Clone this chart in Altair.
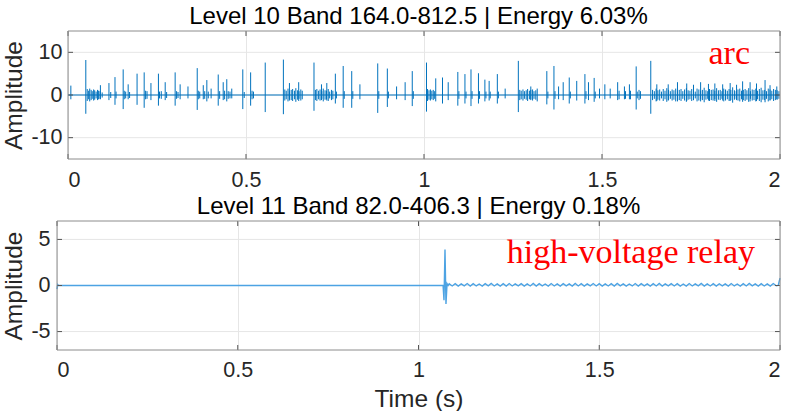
import altair as alt
import pandas as pd

FONT = "Liberation Sans"
SERIF = "Liberation Serif"
BLUE = "#0072BD"
TXT = "#262626"
FRAME = "#8c8c8c"
GRID = "#e6e6e6"

top_title = "Level 10 Band 164.0-812.5 | Energy 6.03%"
bot_title = "Level 11 Band 82.0-406.3 | Energy 0.18%"
top_note = "arc"
bot_note = "high-voltage relay"
y_label = "Amplitude"
x_label = "Time (s)"

x_ticks = [0, 0.5, 1, 1.5, 2]
top_y_ticks = [-10, 0, 10]
bot_y_ticks = [-5, 0, 5]

# --- top panel: main spikes (time, positive peak, negative peak)
spike_t = [0.008, 0.050, 0.091, 0.115, 0.132, 0.155, 0.169, 0.194, 0.214, 0.233,
           0.254, 0.273, 0.301, 0.315, 0.337, 0.363, 0.380, 0.390, 0.402, 0.422,
           0.436, 0.446, 0.460, 0.491, 0.513, 0.554, 0.605, 0.622, 0.648, 0.691,
           0.712, 0.727, 0.751, 0.773, 0.797, 0.820, 0.870, 0.897, 0.923, 0.947,
           0.967, 1.007, 1.033, 1.052, 1.068, 1.095, 1.115, 1.132, 1.153, 1.171,
           1.183, 1.206, 1.228, 1.265, 1.300, 1.345, 1.365, 1.378, 1.391, 1.408,
           1.429, 1.452, 1.462, 1.478, 1.493, 1.508, 1.523, 1.544, 1.563, 1.577,
           1.596, 1.637, 1.654, 1.686, 1.712, 1.738, 1.757, 1.777, 1.799, 1.817,
           1.839, 1.860, 1.878, 1.895, 1.916, 1.934, 1.958, 1.972, 1.991]
spike_up = [2.2, 8.2, 2.3, 2.8, 4.2, 6.0, 2.5, 5.0, 5.3, 2.8,
            5.0, 3.0, 5.3, 2.5, 2.0, 6.3, 2.3, 3.5, 1.5, 4.8,
            3.0, 3.7, 1.5, 6.0, 5.3, 7.6, 8.3, 2.8, 3.0, 7.6,
            2.5, 2.8, 5.0, 6.8, 5.6, 2.5, 7.4, 6.2, 2.0, 3.0,
            5.6, 7.6, 3.9, 4.1, 3.0, 5.4, 4.9, 6.0, 5.1, 3.6,
            3.3, 4.9, 1.5, 8.0, 2.0, 5.6, 6.8, 2.0, 3.0, 4.1,
            3.3, 4.9, 3.0, 4.0, 1.5, 2.5, 1.5, 3.0, 2.0, 2.5,
            6.7, 8.0, 2.5, 2.5, 3.0, 2.7, 2.4, 3.0, 2.6, 2.7,
            2.5, 2.8, 2.4, 3.2, 3.0, 2.7, 3.5, 2.3, 2.0]
spike_dn = [-1.0, -4.4, -1.0, -1.2, -2.3, -3.3, -1.0, -2.3, -3.0, -1.2,
            -2.5, -1.2, -2.5, -1.0, -0.8, -3.5, -1.0, -1.5, -0.8, -2.5,
            -1.2, -1.5, -0.8, -3.3, -2.5, -4.0, -4.5, -1.3, -1.4, -3.7,
            -1.2, -1.3, -2.0, -3.0, -3.0, -1.0, -4.2, -2.8, -1.0, -1.2,
            -2.6, -3.9, -1.5, -2.0, -1.2, -2.5, -2.0, -2.6, -2.0, -1.5,
            -1.3, -2.0, -0.8, -4.0, -1.0, -2.2, -3.4, -1.0, -1.2, -2.0,
            -1.3, -2.0, -1.2, -1.6, -0.8, -1.0, -0.8, -1.2, -1.0, -1.0,
            -3.4, -4.4, -1.4, -1.3, -1.5, -1.4, -1.2, -1.5, -1.3, -1.4,
            -1.3, -1.4, -1.2, -1.6, -1.5, -1.4, -1.7, -1.2, -1.0]

# --- top panel: small oscillation bursts (time, half-height)
fuzz_t = [0.054, 0.058, 0.061, 0.065, 0.068, 0.072, 0.075, 0.079, 0.083, 0.086, 0.090,
          0.096, 0.120, 0.135, 0.158, 0.162, 0.173, 0.218, 0.222, 0.257, 0.262, 0.277,
          0.305, 0.309, 0.366, 0.370, 0.384, 0.394, 0.426, 0.440, 0.450, 0.455, 0.495,
          0.517, 0.521,
          0.609, 0.613, 0.618, 0.622, 0.627, 0.631, 0.636, 0.640, 0.645, 0.649, 0.654, 0.658,
          0.695, 0.699, 0.704, 0.708, 0.713, 0.717, 0.722, 0.726, 0.731, 0.735, 0.740, 0.744,
          0.754, 0.776, 0.800, 0.873, 0.900, 0.970,
          1.010, 1.014, 1.018, 1.022, 1.026, 1.030,
          1.098, 1.118, 1.135, 1.156, 1.174, 1.186, 1.209,
          1.269, 1.273, 1.278, 1.282, 1.287, 1.291, 1.296, 1.300, 1.305, 1.309, 1.314, 1.318,
          1.348, 1.368, 1.411, 1.455, 1.481, 1.548, 1.566, 1.580, 1.599, 1.604, 1.608,
          1.642, 1.647, 1.652, 1.657, 1.662, 1.667, 1.672, 1.677, 1.682, 1.687,
          1.692, 1.697, 1.702, 1.707, 1.712, 1.717, 1.722, 1.727, 1.732, 1.737,
          1.742, 1.747, 1.752, 1.757, 1.762, 1.767, 1.772, 1.777, 1.782, 1.787,
          1.792, 1.797, 1.802, 1.807, 1.812, 1.817, 1.822, 1.827, 1.832, 1.837,
          1.842, 1.847, 1.852, 1.857, 1.862, 1.867, 1.872, 1.877, 1.882, 1.887,
          1.892, 1.897, 1.902, 1.907, 1.912, 1.917, 1.922, 1.927, 1.932, 1.937,
          1.942, 1.947, 1.952, 1.957, 1.962, 1.967, 1.972, 1.977, 1.982, 1.987,
          1.992, 1.997]
fuzz_a = [1.4, 1.0, 1.5, 1.2, 0.9, 1.3, 1.1, 0.8, 1.2, 1.0, 0.9,
          0.6, 0.7, 0.8, 1.0, 0.8, 0.7, 1.0, 0.9, 0.8, 0.9, 0.7,
          0.9, 0.7, 1.0, 0.8, 0.9, 0.8, 0.9, 1.0, 0.9, 0.8, 0.7,
          1.0, 0.8,
          1.3, 1.0, 1.5, 0.9, 1.2, 1.4, 1.0, 1.6, 1.1, 0.9, 1.3, 1.0,
          1.2, 1.4, 1.0, 1.3, 0.9, 1.5, 1.1, 1.0, 1.4, 0.8, 1.2, 1.0,
          0.8, 0.9, 0.9, 0.9, 0.8, 0.9,
          1.4, 1.1, 1.3, 1.0, 1.2, 0.9,
          0.9, 0.8, 0.9, 0.9, 0.8, 0.8, 0.8,
          1.2, 1.0, 1.3, 0.9, 1.1, 1.4, 1.0, 1.2, 1.3, 0.9, 1.1, 1.5,
          0.8, 0.9, 0.8, 0.9, 0.8, 1.0, 0.9, 1.0, 0.8, 1.2, 0.9,
          1.2, 0.9, 1.5, 1.1, 1.3, 0.8, 1.4, 1.0, 1.6, 1.2,
          0.9, 1.3, 1.1, 1.5, 1.0, 1.2, 1.4, 0.9, 1.3, 1.6,
          1.1, 1.0, 1.4, 1.2, 0.8, 1.5, 1.3, 1.0, 1.2, 1.7,
          1.1, 0.9, 1.4, 1.2, 1.3, 1.0, 1.6, 1.1, 1.2, 0.9,
          1.5, 1.3, 1.0, 1.4, 1.2, 1.8, 1.1, 0.9, 1.3, 1.5,
          1.0, 1.2, 1.4, 1.1, 1.6, 0.9, 1.3, 1.2, 1.5, 1.0,
          1.4, 1.7, 1.1, 1.2, 0.9, 1.5, 1.3, 1.0, 1.4, 1.2,
          1.1, 0.9]

base_t = [0.0, 2.0]
base_v = [0.0, 0.0]

# --- bottom panel: relay transient then small ripple
bot_head_t = [0.0, 0.002, 0.004, 1.068, 1.0705, 1.0733, 1.076, 1.079, 1.082]
bot_head_v = [-0.4, 0.1, 0.0, 0.0, -1.6, 3.9, -2.0, 0.2, 0.0]
ripple_start = 1.085
ripple_step = 0.0083
ripple_v = [0.18, -0.05, 0.20, -0.06, 0.17, -0.04, 0.21, -0.07, 0.19, -0.05,
            0.16, -0.06, 0.20, -0.04, 0.22, -0.05, 0.18, -0.07, 0.19, -0.06,
            0.21, -0.05, 0.17, -0.04, 0.20, -0.06, 0.18, -0.05, 0.22, -0.07,
            0.19, -0.04, 0.16, -0.06, 0.21, -0.05, 0.18, -0.06, 0.20, -0.04,
            0.17, -0.07, 0.22, -0.05, 0.19, -0.06, 0.18, -0.04, 0.21, -0.05,
            0.20, -0.06, 0.17, -0.05, 0.19, -0.07, 0.22, -0.04, 0.18, -0.06,
            0.16, -0.05, 0.21, -0.06, 0.20, -0.04, 0.18, -0.07, 0.19, -0.05,
            0.22, -0.06, 0.17, -0.04, 0.20, -0.05, 0.19, -0.06, 0.16, -0.07,
            0.21, -0.05, 0.18, -0.04, 0.22, -0.06, 0.17, -0.05, 0.20, -0.06,
            0.19, -0.04, 0.18, -0.07, 0.21, -0.05, 0.16, -0.06, 0.20, -0.05,
            0.22, -0.04, 0.17, -0.06, 0.19, -0.05, 0.18, -0.07, 0.21, -0.04]
bot_tail_t = [1.995, 2.0]
bot_tail_v = [0.0, 0.8]

W = 723          # both panels share the same group width
TOP_L = 11       # top plot area starts 11 px right of the bottom one
TH, BH = 128, 129
LABEL_SIZE = 21.5


def xenc(show_title, x0, lpad):
    return alt.X(
        "t:Q",
        scale=alt.Scale(domain=[0, 2], nice=False, zero=False, range=[x0, W]),
        axis=alt.Axis(
            values=x_ticks, labelExpr="'' + datum.value", grid=True,
            gridColor=GRID, ticks=False, domain=False,
            labelFont=FONT, labelFontSize=LABEL_SIZE, labelColor=TXT, labelPadding=lpad,
            title=x_label if show_title else None, titleFont=FONT, titleFontSize=24.5,
            titleFontWeight="normal", titleColor=TXT, titlePadding=7,
        ),
    )


def yenc(field, dom, ticks, H, lpad):
    return alt.Y(
        f"{field}:Q",
        scale=alt.Scale(domain=dom, nice=False, zero=False),
        axis=alt.Axis(
            values=ticks, labelExpr="'' + datum.value", grid=False,
            ticks=False, domain=False,
            labelFont=FONT, labelFontSize=LABEL_SIZE, labelColor=TXT, labelPadding=lpad,
            title=y_label, titleFont=FONT, titleFontSize=24.5,
            titleFontWeight="normal", titleColor=TXT,
            titleX=-31, titleY=H / 2, titleAngle=270, titleBaseline="bottom",
            titleAlign="center",
        ),
    )


def frame_layers(X, Y, x0, H, yt, one):
    xt = pd.DataFrame({"t": x_ticks})
    ytd = pd.DataFrame({"v": yt})
    tc = "#555555"
    return [
        # horizontal grid lines
        alt.Chart(ytd).mark_rule(color=GRID, strokeWidth=1).encode(
            y=Y("v"), x=alt.value(x0), x2=alt.value(W)),
        # inward ticks
        alt.Chart(xt).mark_rule(color=tc, strokeWidth=1).encode(
            x=X, y=alt.value(H), y2=alt.value(H - 5)),
        alt.Chart(xt).mark_rule(color=tc, strokeWidth=1).encode(
            x=X, y=alt.value(0), y2=alt.value(5)),
        alt.Chart(ytd).mark_rule(color=tc, strokeWidth=1).encode(
            y=Y("v"), x=alt.value(x0), x2=alt.value(x0 + 5)),
        alt.Chart(ytd).mark_rule(color=tc, strokeWidth=1).encode(
            y=Y("v"), x=alt.value(W - 5), x2=alt.value(W)),
        # box
        alt.Chart(one).mark_rect(fill=None, stroke=FRAME, strokeWidth=1).encode(
            x=alt.value(x0), x2=alt.value(W), y=alt.value(0), y2=alt.value(H)),
    ]


def title(text):
    return alt.TitleParams(text, font=FONT, fontSize=24, fontWeight="normal",
                           color="#000000", anchor="middle", offset=1.5)


one = pd.DataFrame({"k": [0]})

# top panel
top_dom = [-15, 15]
spikes = pd.DataFrame({"t": spike_t, "up": spike_up, "dn": spike_dn})
fuzz = pd.DataFrame({"t": fuzz_t, "a": fuzz_a, "lo": [-v for v in fuzz_a]})
base = pd.DataFrame({"t": base_t, "v": base_v})
TX = xenc(False, TOP_L, 10)
TY = lambda f: yenc(f, top_dom, top_y_ticks, TH, -5)
top_frame = frame_layers(TX, TY, TOP_L, TH, top_y_ticks, one)

top_layers = top_frame[:1] + [
    alt.Chart(base).mark_line(color=BLUE, strokeWidth=1.2).encode(x=TX, y=TY("v")),
    alt.Chart(fuzz).mark_rule(color=BLUE, strokeWidth=1).encode(
        x=TX, y=TY("lo"), y2="a:Q"),
    alt.Chart(spikes).mark_rule(color=BLUE, strokeWidth=1).encode(
        x=TX, y=TY("dn"), y2="up:Q"),
] + top_frame[1:] + [
    alt.Chart(one).mark_text(font=SERIF, fontSize=34, color="#ff0000",
                             align="right", baseline="alphabetic").encode(
        x=alt.value(693), y=alt.value(33), text=alt.value(top_note)),
]
top = alt.layer(*top_layers).properties(
    width=W, height=TH, title=title(top_title), view=alt.ViewBackground(stroke=None))

# bottom panel
bot_dom = [-7, 7]
ripple_t = [round(ripple_start + i * ripple_step, 5) for i in range(len(ripple_v))]
bot = pd.DataFrame({
    "t": bot_head_t + ripple_t + bot_tail_t,
    "v": bot_head_v + ripple_v + bot_tail_v,
})
BX = xenc(True, 0, 9)
BY = lambda f: yenc(f, bot_dom, bot_y_ticks, BH, 7)
bot_frame = frame_layers(BX, BY, 0, BH, bot_y_ticks, one)
bot_layers = bot_frame[:1] + [
    alt.Chart(bot).mark_line(color="#4da3e3", strokeWidth=1.4).encode(
        x=BX, y=BY("v"), order="t:Q"),
] + bot_frame[1:] + [
    alt.Chart(one).mark_text(font=SERIF, fontSize=34, color="#ff0000",
                             align="right", baseline="alphabetic").encode(
        x=alt.value(698), y=alt.value(42), text=alt.value(bot_note)),
]
bottom = alt.layer(*bot_layers).properties(
    width=W, height=BH, title=title(bot_title), view=alt.ViewBackground(stroke=None))

chart = alt.concat(top, bottom, columns=1, spacing=4).properties(
    padding={"left": 0, "top": 5, "right": 5, "bottom": 0}
).configure(background="white")

chart.save("out.html", embed_options={"renderer": "svg", "actions": False})
